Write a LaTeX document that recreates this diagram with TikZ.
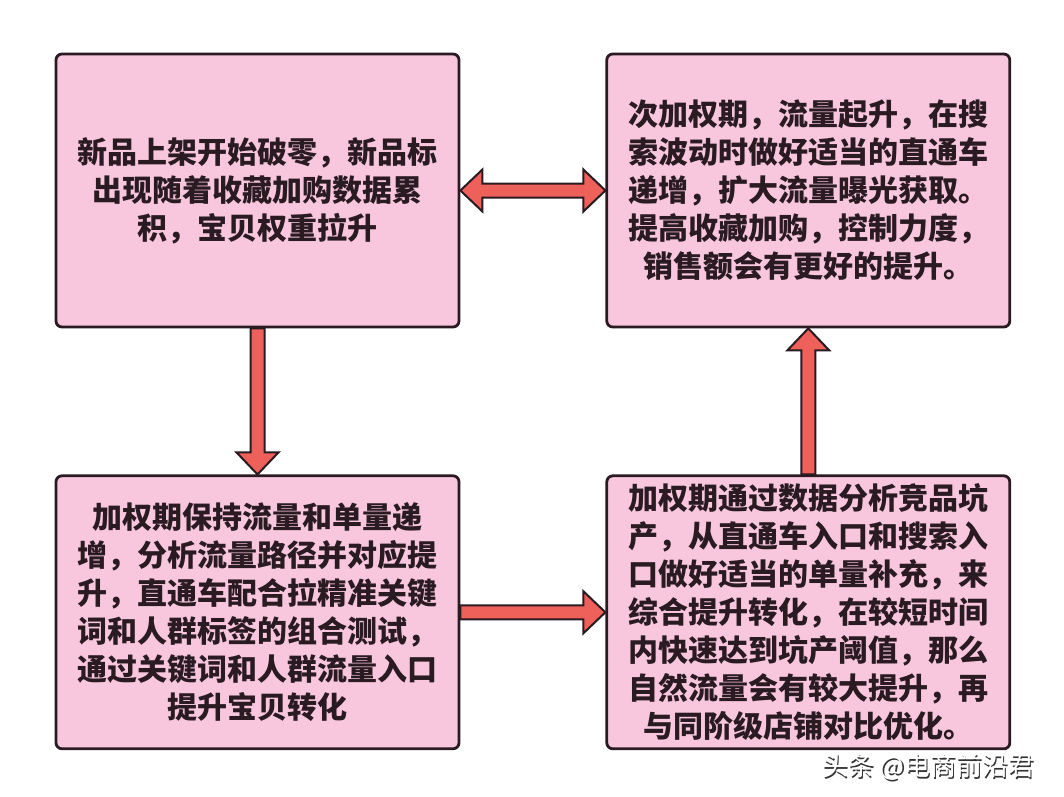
\documentclass[tikz,border=0pt]{standalone}
\usepackage{fontspec}
\setmainfont{Noto Sans CJK SC}
\usetikzlibrary{positioning,calc}
\definecolor{boxpink}{HTML}{F8C7DE}
\definecolor{arrred}{HTML}{EE605A}
\definecolor{inkdark}{HTML}{2A1A22}
\tikzset{stagebox/.style={draw=inkdark, line width=2.8pt, rounded corners=6pt, fill=boxpink, minimum width=403pt, minimum height=273pt, inner sep=0pt, align=center, text=inkdark, font=\bfseries\fontsize{30}{38}\selectfont}}
\tikzset{fatarr/.style={draw=inkdark, line width=2pt, fill=arrred, line join=miter}}
\newcommand{\fatarrow}[2]{\coordinate (hb) at ($(#2)!22pt!(#1)$);\filldraw[fatarr] ($(#1)!7pt!90:(#2)$) -- ($(hb)!7pt!90:(#2)$) -- ($(hb)!21pt!90:(#2)$) -- (#2) -- ($(hb)!21pt!-90:(#2)$) -- ($(hb)!7pt!-90:(#2)$) -- ($(#1)!7pt!-90:(#2)$) -- cycle;}
\newcommand{\dblarrow}[2]{\coordinate (ha) at ($(#1)!22pt!(#2)$);\coordinate (hb) at ($(#2)!22pt!(#1)$);\filldraw[fatarr] (#1) -- ($(ha)!21pt!90:(#2)$) -- ($(ha)!7pt!90:(#2)$) -- ($(hb)!7pt!90:(#2)$) -- ($(hb)!21pt!90:(#2)$) -- (#2) -- ($(hb)!21pt!-90:(#2)$) -- ($(hb)!7pt!-90:(#2)$) -- ($(ha)!7pt!-90:(#2)$) -- ($(ha)!21pt!-90:(#2)$) -- cycle;}

\begin{document}
\begin{tikzpicture}[x=1pt, y=-1pt]
\useasboundingbox[fill=white] (0,0) rectangle (1064,796);
\node[stagebox] (a) at (257.5,190.5) {新品上架开始破零，新品标\\出现随着收藏加购数据累\\积，宝贝权重拉升};
\node[stagebox, right=145pt of a] (b) {次加权期，流量起升，在搜\\索波动时做好适当的直通车\\递增，扩大流量曝光获取。\\提高收藏加购，控制力度，\\销售额会有更好的提升。};
\node[stagebox, below=146pt of a] (c) {加权期保持流量和单量递\\增，分析流量路径并对应提\\升，直通车配合拉精准关键\\词和人群标签的组合测试，\\通过关键词和人群流量入口\\提升宝贝转化};
\node[stagebox, right=145pt of c] (d) {加权期通过数据分析竞品坑\\产，从直通车入口和搜索入\\口做好适当的单量补充，来\\综合提升转化，在较短时间\\内快速达到坑产阈值，那么\\自然流量会有较大提升，再\\与同阶级店铺对比优化。};
\dblarrow{a.east}{b.west}
\fatarrow{a.south}{c.north}
\fatarrow{c.east}{d.west}
\fatarrow{d.north}{b.south}
% watermark
\node[anchor=east, font=\fontsize{26}{26}\selectfont, text=black!80] (wmshade) at (1039.5,768.5) {头条 @电商前沿君};
\node[anchor=east, font=\fontsize{26}{26}\selectfont, text=white] (wm) at (1038,767) {头条 @电商前沿君};
\end{tikzpicture}
\end{document}
